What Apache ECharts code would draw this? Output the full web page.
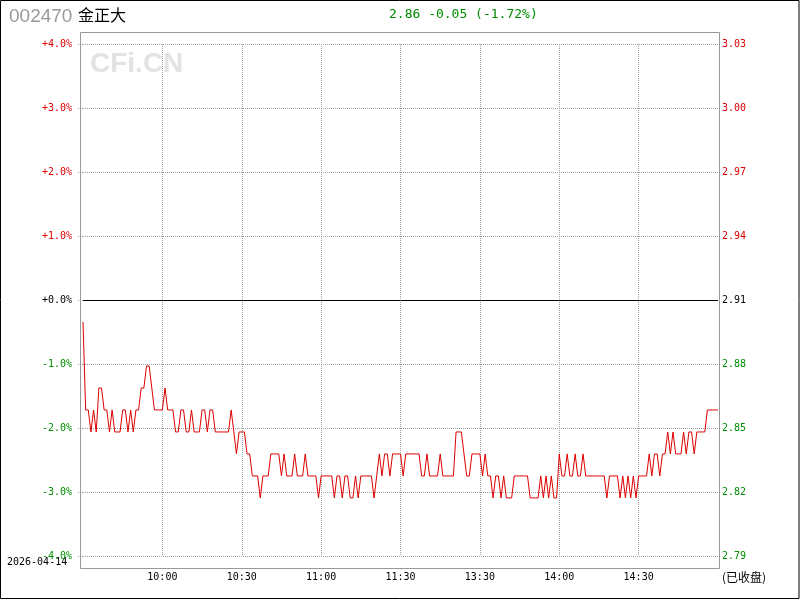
<!DOCTYPE html>
<html>
<head>
<meta charset="utf-8">
<script src="https://cdn.jsdelivr.net/npm/echarts@6/dist/echarts.min.js"></script>
<style>
html,body{margin:0;padding:0;background:#fff;}
#chart{width:800px;height:600px;}
</style>
</head>
<body>
<div id="chart"></div>
<script>
// ---- data ----
var stockCode = '002470';
var stockName = '金正大';
var tradeDate = '2026-04-14';
var prevClose = 2.91;
var lastPrice = 2.86;
var statusText = '(已收盘)';
var timeLabels = ['10:00', '10:30', '11:00', '11:30', '13:30', '14:00', '14:30'];
var pctTicks = [-4, -3, -2, -1, 0, 1, 2, 3, 4];
// 09:30 - 11:30 (one price per minute)
var morningPrices = [
  2.90,2.86,2.86,2.85,2.86,2.85,2.87,2.87,2.86,2.86,
  2.85,2.86,2.85,2.85,2.85,2.86,2.86,2.85,2.86,2.85,
  2.86,2.86,2.87,2.87,2.88,2.88,2.87,2.86,2.86,2.86,
  2.86,2.87,2.86,2.86,2.86,2.85,2.85,2.86,2.86,2.85,
  2.85,2.86,2.85,2.85,2.85,2.86,2.86,2.85,2.86,2.86,
  2.85,2.85,2.85,2.85,2.85,2.85,2.86,2.85,2.84,2.85,
  2.85,2.85,2.84,2.84,2.83,2.83,2.83,2.82,2.83,2.83,
  2.83,2.84,2.84,2.84,2.84,2.83,2.84,2.83,2.83,2.83,
  2.84,2.83,2.83,2.83,2.84,2.83,2.83,2.83,2.83,2.82,
  2.83,2.83,2.83,2.83,2.83,2.82,2.83,2.83,2.82,2.83,
  2.83,2.82,2.82,2.83,2.82,2.83,2.83,2.83,2.83,2.83,
  2.82,2.83,2.84,2.83,2.84,2.84,2.83,2.84,2.84,2.84,2.84
];
// 13:01 - 15:00
var afternoonPrices = [
  2.83,2.84,2.84,2.84,2.84,2.84,2.84,2.83,2.83,2.84,
  2.83,2.83,2.83,2.83,2.84,2.83,2.83,2.83,2.83,2.83,
  2.85,2.85,2.85,2.84,2.83,2.83,2.84,2.84,2.84,2.84,
  2.83,2.84,2.83,2.83,2.82,2.83,2.83,2.82,2.83,2.82,
  2.82,2.82,2.83,2.83,2.83,2.83,2.83,2.83,2.82,2.82,
  2.82,2.82,2.83,2.82,2.83,2.82,2.83,2.82,2.82,2.84,
  2.83,2.83,2.84,2.83,2.83,2.84,2.83,2.83,2.84,2.83,
  2.83,2.83,2.83,2.83,2.83,2.83,2.83,2.82,2.83,2.83,
  2.83,2.83,2.82,2.83,2.82,2.83,2.82,2.83,2.82,2.83,
  2.83,2.83,2.83,2.84,2.83,2.84,2.84,2.83,2.84,2.84,
  2.85,2.84,2.85,2.84,2.84,2.84,2.85,2.84,2.85,2.85,
  2.84,2.85,2.85,2.85,2.85,2.86,2.86,2.86,2.86,2.86
];

// ---- build ----
var prices = morningPrices.concat(afternoonPrices);
var lineData = prices.map(function (p, i) {
  return [i, (p - prevClose) / prevClose * 100];
});
var change = lastPrice - prevClose;
var changePct = change / prevClose * 100;
var headerText = lastPrice.toFixed(2) + ' ' + (change >= 0 ? '+' : '-') + Math.abs(change).toFixed(2) +
  ' (' + (changePct >= 0 ? '+' : '-') + Math.abs(changePct).toFixed(2) + '%)';

var RED = '#dd0000', GREEN = '#008c00', GRAY = '#a0a0a0';
var MONO = '"DejaVu Sans Mono", "Liberation Mono", monospace';
function sideColor(v) {
  v = Number(v);
  if (Math.abs(v) < 1e-9) return '#000';
  return v > 0 ? RED : GREEN;
}

var chart = echarts.init(document.getElementById('chart'), null, { renderer: 'canvas' });
chart.setOption({
  animation: false,
  backgroundColor: '#fff',
  grid: { left: 83, right: 82, top: 44, bottom: 44, containLabel: false },
  xAxis: {
    type: 'value', min: 0, max: 240, interval: 30,
    axisLine: { show: false },
    axisTick: { show: false },
    axisLabel: {
      margin: 16, color: '#000', fontFamily: MONO, fontSize: 10,
      formatter: function (v) {
        var k = v / 30 - 1;
        return (k >= 0 && k < timeLabels.length) ? timeLabels[k] : '';
      }
    },
    splitLine: { show: true, showMinLine: false, showMaxLine: false,
      lineStyle: { color: GRAY, type: [1, 1], width: 1 } }
  },
  yAxis: [{
    type: 'value', min: pctTicks[0], max: pctTicks[pctTicks.length - 1], interval: 1,
    position: 'left',
    axisLine: { show: false },
    axisTick: { show: true, length: 6, lineStyle: { color: GRAY, type: [1, 1] } },
    axisLabel: {
      margin: 11, fontFamily: MONO, fontSize: 10,
      color: function (v) { return sideColor(v); },
      formatter: function (v) {
        return (v > 0 ? '+' : (v < 0 ? '-' : '+')) + Math.abs(v).toFixed(1) + '%';
      }
    },
    splitLine: { show: true, lineStyle: { color: GRAY, type: [1, 1], width: 1 } }
  }, {
    type: 'value', min: pctTicks[0], max: pctTicks[pctTicks.length - 1], interval: 1,
    position: 'right',
    axisLine: { show: false },
    axisTick: { show: false },
    axisLabel: {
      margin: 4, fontFamily: MONO, fontSize: 10,
      color: function (v) { return sideColor(v); },
      formatter: function (v) { return (prevClose * (1 + v / 100)).toFixed(2); }
    },
    splitLine: { show: false }
  }],
  series: [{
    type: 'line',
    data: lineData,
    showSymbol: false,
    symbol: 'none',
    lineStyle: { color: RED, width: 1 },
    z: 3,
    markLine: {
      silent: true, symbol: 'none', label: { show: false },
      lineStyle: { color: '#000', type: 'solid', width: 1 },
      data: [{ yAxis: 0 }]
    }
  }],
  graphic: [
    { type: 'rect', z: 100, shape: { x: 0.5, y: 0.5, width: 798.5, height: 598 },
      style: { fill: 'none', stroke: '#000', lineWidth: 1 } },
    { type: 'rect', z: 50, shape: { x: 80.5, y: 32.5, width: 639, height: 536 },
      style: { fill: 'none', stroke: '#999', lineWidth: 1 } },
    { type: 'text', z: 0, left: 90, top: 50,
      style: { text: 'CFi.CN', fill: '#e3e3e3', font: 'bold 28px "Liberation Sans", Arial, sans-serif' } },
    { type: 'text', left: 9, top: 7,
      style: { text: stockCode, fill: '#999', font: '19px "Liberation Sans", Arial, sans-serif' } },
    { type: 'text', left: 78, top: 7,
      style: { text: stockName, fill: '#000', font: '16px "Noto Sans CJK SC", sans-serif' } },
    { type: 'text', left: 389, top: 8,
      style: { text: headerText, fill: GREEN, font: '13px ' + MONO } },
    { type: 'text', left: 7, top: 557,
      style: { text: tradeDate, fill: '#000', font: '10px ' + MONO } },
    { type: 'text', left: 722, top: 571,
      style: { text: statusText, fill: '#000', font: '12px "Noto Sans CJK SC", sans-serif' } }
  ]
});
</script>
</body>
</html>
